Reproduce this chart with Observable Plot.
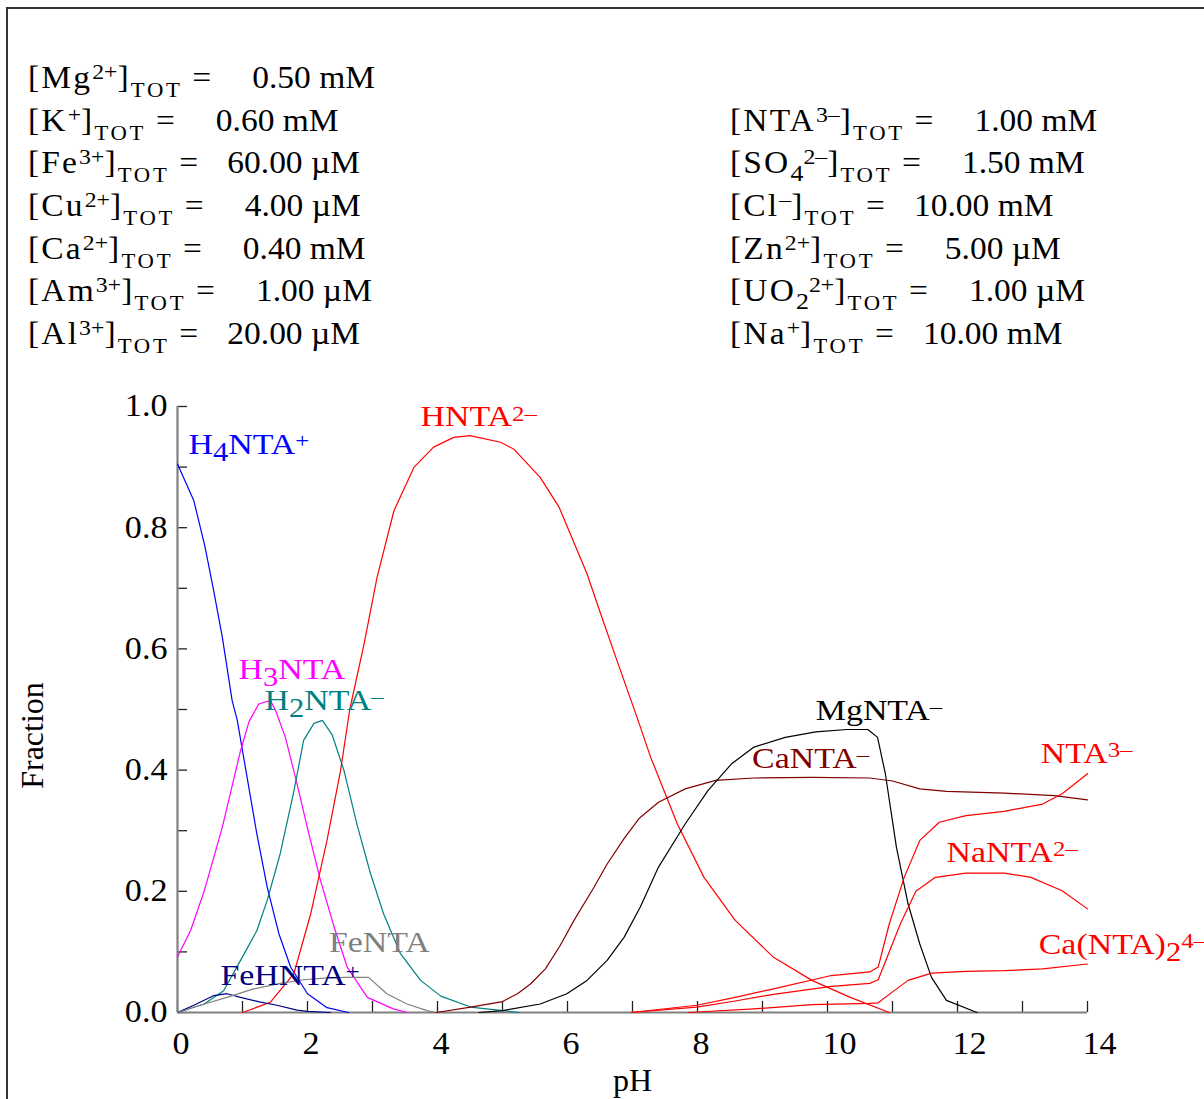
<!DOCTYPE html>
<html>
<head>
<meta charset="utf-8">
<script src="https://cdn.jsdelivr.net/npm/d3@7"></script>
<script src="https://cdn.jsdelivr.net/npm/@observablehq/plot@0.6"></script>
<style>
html, body { margin: 0; padding: 0; background: #fff; overflow: hidden; }
#page { position: relative; width: 1204px; height: 1099px; overflow: hidden; font-family: "Liberation Serif", "Times New Roman", serif; background: #fff; }
#frame { position: absolute; left: 6px; top: 7px; width: 1300px; height: 1200px; border: 2px solid #333; box-sizing: border-box; pointer-events: none; z-index: 5; }
#header { position: relative; height: 380px; }
.hline { position: absolute; white-space: pre; font-size: 31px; line-height: 1; color: #000; transform-origin: 0 0; transform: scaleX(1.08); }
.lab { letter-spacing: 2px; }
.sup { font-size: 22px; position: relative; top: -9px; letter-spacing: 0; }
.sub { font-size: 21px; letter-spacing: 2.5px; position: relative; top: 9px; }
.isub { font-size: 24px; position: relative; top: 8px; letter-spacing: 0; }
.eq { margin-left: 9px; }
#chart { position: relative; }
</style>
</head>
<body>
<div id="page">
  <div id="frame"></div>
  <div id="header"></div>
  <div id="chart"></div>
</div>
<script>
// ---------- header: total concentrations ----------
const leftIons    = ["Mg", "K", "Fe", "Cu", "Ca", "Am", "Al"];
const leftCharges = ["2+", "+", "3+", "2+", "2+", "3+", "3+"];
const leftConc    = [0.50, 0.60, 60.00, 4.00, 0.40, 1.00, 20.00];
const leftUnits   = ["mM", "mM", "µM", "µM", "mM", "µM", "µM"];

const rightIons    = ["NTA", "SO_4", "Cl", "Zn", "UO_2", "Na"];
const rightCharges = ["3–", "2–", "–", "2+", "2+", "+"];
const rightConc    = [1.00, 1.50, 10.00, 5.00, 1.00, 10.00];
const rightUnits   = ["mM", "mM", "mM", "µM", "µM", "mM"];

// ---------- axis ticks ----------
const xTicks      = [0, 1, 2, 3, 4, 5, 6, 7, 8, 9, 10, 11, 12, 13, 14];
const xTickLabels = [0, 2, 4, 6, 8, 10, 12, 14];
const yTicks      = [0, 0.1, 0.2, 0.3, 0.4, 0.5, 0.6, 0.7, 0.8, 0.9, 1.0];
const yTickLabels = [0, 0.2, 0.4, 0.6, 0.8, 1.0];

// ---------- species fractions vs pH: [pH, fraction] ----------
const H4NTA = [[0,0.905],[0.25,0.845],[0.42,0.77],[0.55,0.70],[0.69,0.619],[0.84,0.515],[0.92,0.482],[1.0,0.432],[1.1,0.37],[1.22,0.295],[1.38,0.207],[1.56,0.13],[1.74,0.075],[2.0,0.031],[2.3,0.008],[2.63,0]];
const H3NTA = [[0,0.092],[0.2,0.135],[0.41,0.20],[0.69,0.306],[0.97,0.432],[1.1,0.48],[1.25,0.509],[1.43,0.515],[1.51,0.498],[1.66,0.454],[1.84,0.377],[2.02,0.295],[2.2,0.218],[2.41,0.141],[2.61,0.075],[2.92,0.025],[3.32,0.006],[3.53,0]];
const H2NTA = [[0,0],[0.41,0.014],[0.71,0.036],[0.97,0.086],[1.22,0.135],[1.38,0.185],[1.58,0.262],[1.79,0.365],[1.94,0.449],[2.1,0.477],[2.23,0.482],[2.38,0.458],[2.56,0.40],[2.76,0.311],[2.97,0.229],[3.17,0.163],[3.43,0.097],[3.74,0.053],[4.05,0.027],[4.51,0.009],[5.0,0.003],[5.25,0]];
const HNTA  = [[1.0,0],[1.43,0.017],[1.79,0.064],[2.05,0.163],[2.3,0.284],[2.51,0.40],[2.65,0.50],[2.87,0.608],[3.07,0.718],[3.33,0.828],[3.64,0.90],[3.94,0.933],[4.25,0.949],[4.5,0.952],[4.97,0.941],[5.17,0.93],[5.58,0.883],[5.87,0.834],[6.3,0.724],[6.51,0.658],[6.76,0.581],[7.07,0.487],[7.28,0.421],[7.69,0.311],[8.1,0.223],[8.58,0.152],[9.17,0.091],[9.76,0.053],[10.35,0.025],[10.95,0]];
const FeHNTA = [[0,0],[0.25,0.012],[0.56,0.028],[0.76,0.031],[0.97,0.025],[1.28,0.017],[1.53,0.012],[1.84,0.004],[2.0,0.002],[2.35,0]];
const FeNTA  = [[0,0],[0.35,0.012],[0.76,0.025],[1.17,0.039],[1.58,0.048],[1.94,0.054],[2.3,0.057],[2.61,0.058],[2.94,0.058],[3.22,0.031],[3.53,0.014],[3.84,0.003],[3.97,0]];
const CaNTA  = [[3.98,0],[4.51,0.009],[5.0,0.018],[5.23,0.031],[5.43,0.047],[5.66,0.072],[5.89,0.111],[6.1,0.152],[6.41,0.207],[6.61,0.245],[6.87,0.287],[7.1,0.32],[7.4,0.347],[7.81,0.369],[8.28,0.383],[8.87,0.387],[9.76,0.388],[10.65,0.387],[11.0,0.382],[11.42,0.369],[11.83,0.365],[12.72,0.362],[13.49,0.358],[14,0.351]];
const MgNTA  = [[4.64,0],[5.0,0.003],[5.58,0.014],[5.99,0.031],[6.3,0.053],[6.61,0.086],[6.87,0.124],[7.12,0.174],[7.4,0.24],[7.81,0.311],[8.16,0.366],[8.52,0.41],[8.87,0.438],[9.35,0.454],[9.82,0.463],[10.3,0.467],[10.62,0.467],[10.77,0.454],[10.89,0.394],[11.06,0.273],[11.24,0.179],[11.42,0.113],[11.6,0.058],[11.83,0.02],[12.3,0]];
const NTA    = [[6.98,0],[7.99,0.012],[8.58,0.025],[9.17,0.039],[10.06,0.061],[10.65,0.067],[10.78,0.075],[10.95,0.146],[11.18,0.223],[11.42,0.284],[11.72,0.314],[12.13,0.325],[12.72,0.332],[13.31,0.344],[13.61,0.361],[14,0.394]];
const NaNTA  = [[6.98,0],[7.99,0.009],[8.58,0.019],[9.17,0.03],[10.06,0.043],[10.65,0.048],[10.78,0.054],[11.12,0.146],[11.36,0.2],[11.66,0.223],[12.13,0.23],[12.72,0.23],[13.13,0.223],[13.61,0.201],[14,0.171]];
const CaNTA2 = [[7.86,0],[8.87,0.006],[9.76,0.013],[10.65,0.015],[10.78,0.016],[11.0,0.034],[11.24,0.053],[11.6,0.065],[12.13,0.068],[12.72,0.069],[13.31,0.072],[14,0.08]];

const speciesNames  = ["H4NTA+", "H3NTA", "H2NTA-", "HNTA2-", "FeHNTA+", "FeNTA", "CaNTA-", "MgNTA-", "NTA3-", "NaNTA2-", "Ca(NTA)2 4-"];
const speciesSeries = [H4NTA, H3NTA, H2NTA, HNTA, FeHNTA, FeNTA, CaNTA, MgNTA, NTA, NaNTA, CaNTA2];
const speciesColors = ["#0000ff", "#ff00ff", "#008080", "#ff0000", "#000080", "#808080", "#800000", "#000000", "#ff0000", "#ff0000", "#ff0000"];
const speciesLabels = ["H_{4}NTA^{+}", "H_{3}NTA", "H_{2}NTA^{–}", "HNTA^{2–}", "FeHNTA^{+}", "FeNTA", "CaNTA^{–}", "MgNTA^{–}", "NTA^{3–}", "NaNTA^{2–}", "Ca(NTA)_{2}^{4–}"];
const labelPH   = [0.17, 0.94, 1.34, 3.74, 0.66, 2.33, 8.84, 9.82, 13.28, 11.83, 13.25];
const labelFrac = [0.922, 0.551, 0.50, 0.967, 0.046, 0.10, 0.404, 0.483, 0.411, 0.248, 0.097];

// ---------- header build ----------
function ionHTML(ion) {
  return ion.replace(/_(\d)/g, '<span class="isub">$1</span>');
}
function buildHeader() {
  const header = document.getElementById("header");
  const lineGap = 42.67, firstBaseline = 88;
  const make = (ions, charges, conc, units, left, startRow) => {
    ions.forEach((ion, i) => {
      const row = startRow + i;
      const div = document.createElement("div");
      div.className = "hline";
      div.style.left = left + "px";
      div.style.top = (firstBaseline + row * lineGap - 26) + "px";
      const gap = conc[i] < 10 ? 38 : 27;
      div.innerHTML = `<span class="lab">[${ionHTML(ion)}<span class="sup">${charges[i]}</span>]<span class="sub">TOT</span></span>` +
        `<span class="eq">=</span><span style="margin-left:${gap}px">${conc[i].toFixed(2)} ${units[i]}</span>`;
      header.appendChild(div);
    });
  };
  make(leftIons, leftCharges, leftConc, leftUnits, 28, 0);
  make(rightIons, rightCharges, rightConc, rightUnits, 730, 1);
}
buildHeader();

// ---------- chart ----------
const rows = [];
speciesSeries.forEach((s, k) => s.forEach(([pH, frac]) => rows.push({pH, frac, species: speciesNames[k]})));
const labelRows = speciesNames.map((n, k) => ({species: n, label: speciesLabels[k], pH: labelPH[k], frac: labelFrac[k]}));

const W = 1204, H = 719, mL = 177, mR = 117, mT = 26, mB = 87;
const frameW = W - mL - mR, frameH = H - mT - mB;

const chart = Plot.plot({
  width: W, height: H,
  marginLeft: mL, marginRight: mR, marginTop: mT, marginBottom: mB,
  style: {fontFamily: "Liberation Serif, Times New Roman, serif", background: "none", overflow: "visible"},
  x: {domain: [0, 14]},
  y: {domain: [0, 1]},
  color: {domain: speciesNames, range: speciesColors},
  marks: [
    Plot.ruleX(xTicks, {stroke: "#222", strokeWidth: 1.3, insetTop: frameH - 11}),
    Plot.ruleY(yTicks, {stroke: "#222", strokeWidth: 1.3, insetRight: frameW - 10}),
    Plot.ruleY([0], {stroke: "#808080", strokeWidth: 2.2}),
    Plot.ruleX([0], {stroke: "#808080", strokeWidth: 2.2}),
    Plot.axisX({ticks: xTickLabels, tickSize: 0, tickPadding: 19, fontSize: 31, textAnchor: "start", dx: -5, tickFormat: d => String(d), label: null}),
    Plot.axisY({ticks: yTickLabels, tickSize: 0, tickPadding: 10, fontSize: 31, tickFormat: d3.format(".1f"), label: null}),
    Plot.line(rows, {x: "pH", y: "frac", z: "species", stroke: "species", strokeWidth: 1.2, curve: "linear"}),
    Plot.text(labelRows, {x: "pH", y: "frac", text: "label", fill: "species", textAnchor: "start", lineAnchor: "bottom", fontSize: 30, className: "curve-label"}),
    Plot.text(["pH"], {frameAnchor: "bottom", dy: 78, lineAnchor: "bottom", fontSize: 32}),
    Plot.text(["Fraction"], {frameAnchor: "left", rotate: -90, textAnchor: "middle", lineAnchor: "middle", dx: -145, dy: 26, fontSize: 32})
  ]
});
document.getElementById("chart").appendChild(chart);

// ---------- post-process: sub/superscripts and glyph stretch ----------
const SVGNS = "http://www.w3.org/2000/svg";
function stretch(el, sx) {
  const x = el.getAttribute("x"), y = el.getAttribute("y");
  let t = el.getAttribute("transform") || "";
  if (x != null && !isNaN(+x) && y != null && !isNaN(+y)) {
    t = `translate(${+x},${+y}) ` + t;
    el.removeAttribute("x"); el.removeAttribute("y");
  }
  el.setAttribute("transform", t + ` scale(${sx},1)`);
}
function markup(el, str) {
  const parts = str.split(/(_\{[^}]*\}|\^\{[^}]*\})/).filter(s => s);
  el.textContent = "";
  let shift = 0;
  for (const p of parts) {
    const ts = document.createElementNS(SVGNS, "tspan");
    let target = 0, txt = p;
    if (p.startsWith("_{")) { target = 7; txt = p.slice(2, -1); ts.setAttribute("font-size", 27); }
    else if (p.startsWith("^{")) { target = -6; txt = p.slice(2, -1); ts.setAttribute("font-size", 22); }
    if (target - shift !== 0) ts.setAttribute("dy", target - shift);
    shift = target;
    ts.textContent = txt;
    el.appendChild(ts);
  }
}
d3.select(chart).selectAll("g.curve-label text").each(function() {
  markup(this, this.textContent);
  stretch(this, 1.13);
});
d3.select(chart).selectAll('g[aria-label="x-axis tick label"] text, g[aria-label="y-axis tick label"] text').each(function() {
  stretch(this, 1.1);
});
</script>
</body>
</html>
